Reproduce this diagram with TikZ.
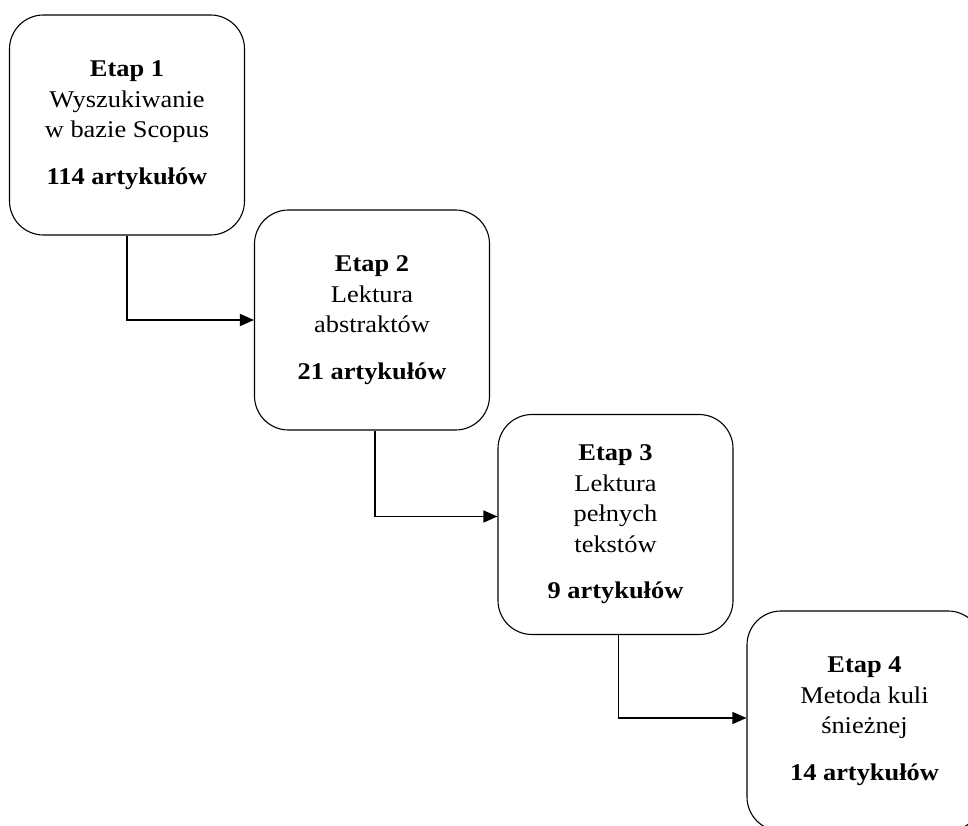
\documentclass[tikz,border=0pt]{standalone}
\usepackage{fontspec}
\setmainfont[FakeStretch=1.1]{Liberation Serif}
\usetikzlibrary{arrows.meta}
\newcommand{\cnt}[1]{\textbf{#1}}
\begin{document}
\begin{tikzpicture}[x=1pt,y=-1pt,
  stage/.style={draw, line width=1.1pt, rounded corners=34pt, align=center, inner sep=0pt,
    minimum width=235pt, minimum height=220pt, font=\fontsize{24}{30.5}\selectfont},
  conn/.style={line width=1.4pt, -{Triangle[length=14pt,width=12pt]}}]
\useasboundingbox (0,0) rectangle (968,826);
\node[stage] (b1) at (127,125) {\textbf{Etap 1}\\Wyszukiwanie\\w bazie Scopus\\[16pt]\cnt{114 artykułów}};
\node[stage] (b2) at (372,320) {\textbf{Etap 2}\\Lektura\\abstraktów\\[16pt]\cnt{21 artykułów}};
\node[stage] (b3) at (615.5,524.5) {\textbf{Etap 3}\\Lektura\\pełnych\\tekstów\\[16pt]\cnt{9 artykułów}};
\node[stage] (b4) at (864.5,721) {\textbf{Etap 4}\\Metoda kuli\\śnieżnej\\[16pt]\cnt{14 artykułów}};
\draw[conn] (b1.south) |- (b2.west);
\draw[conn] ([xshift=3pt]b2.south) |- ([yshift=8pt]b3.west);
\draw[conn] ([xshift=3pt]b3.south) |- ([yshift=3pt]b4.west);
\end{tikzpicture}
\end{document}
